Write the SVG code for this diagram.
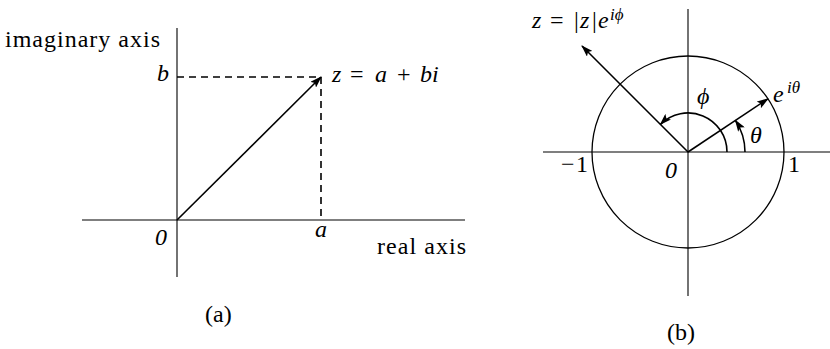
<svg xmlns="http://www.w3.org/2000/svg" width="830" height="349" viewBox="0 0 830 349">
<style>
.ax{stroke:#000;stroke-width:1.1;fill:none}
.vec{stroke:#000;stroke-width:1.6;fill:none}
.dash{stroke:#000;stroke-width:1.6;fill:none;stroke-dasharray:7 5}
.arc{stroke:#000;stroke-width:1.6;fill:none}
.circ{stroke:#000;stroke-width:1.3;fill:none}
text{font-family:Liberation Serif,Times New Roman,serif;font-size:24px;fill:#000}
.it{font-style:italic}
.sup{font-size:17px;font-style:italic}
</style>
<defs>
<marker id="ah" viewBox="0 0 12 8" refX="11" refY="4" markerWidth="12" markerHeight="8" markerUnits="userSpaceOnUse" orient="auto">
<path d="M0,0 L12,4 L0,8 L2.5,4 Z" fill="#000"/>
</marker>
</defs>
<g id="connectors">
<g id="panel-a-axes">
<line class="ax" x1="82" y1="220" x2="465" y2="220"/>
<line class="ax" x1="177" y1="28" x2="177" y2="277"/>
<line class="dash" x1="177" y1="77" x2="321" y2="77"/>
<line class="dash" x1="321" y1="77" x2="321" y2="220"/>
<line class="vec" x1="177" y1="220" x2="321" y2="77" marker-end="url(#ah)"/>
</g>
<g id="panel-b-axes">
<line class="ax" x1="543" y1="152" x2="830" y2="152"/>
<line class="ax" x1="688" y1="9" x2="688" y2="296"/>
<circle class="circ" cx="688" cy="152" r="96"/>
<line class="vec" x1="688" y1="152" x2="582" y2="46" marker-end="url(#ah)"/>
<line class="vec" x1="688" y1="152" x2="767.9" y2="98.8" marker-end="url(#ah)"/>
<path class="arc" d="M745,152 A57,57 0 0 0 735.4,120.4" marker-end="url(#ah)"/>
<path class="arc" d="M727,152 A39,39 0 0 0 660.4,124.4" marker-end="url(#ah)"/>
</g>
</g>
<g id="labels">
<g id="labels-a">
<text x="5" y="47" textLength="155" lengthAdjust="spacing">imaginary axis</text>
<text class="it" x="157" y="81">b</text>
<text class="it" x="155" y="245">0</text>
<text class="it" x="315" y="237">a</text>
<text x="377" y="254" textLength="89" lengthAdjust="spacing">real axis</text>
<text y="82"><tspan class="it" x="332">z</tspan><tspan x="350">=</tspan><tspan class="it" x="375">a</tspan><tspan x="397">+</tspan><tspan class="it" x="420">bi</tspan></text>
<text x="205" y="322">(a)</text>
</g>
<g id="labels-b">
<text y="28"><tspan class="it" x="532">z</tspan><tspan x="550">=</tspan><tspan x="574">|</tspan><tspan class="it" x="580">z</tspan><tspan x="592">|</tspan><tspan class="it" x="598">e</tspan></text>
<text class="sup" x="610" y="20">iϕ</text>
<text class="it" x="697" y="104">ϕ</text>
<text class="it" x="773" y="102">e</text>
<text class="sup" x="787" y="93">iθ</text>
<text class="it" x="750" y="143">θ</text>
<text y="172"><tspan x="561">−</tspan><tspan x="576">1</tspan></text>
<text class="it" x="665" y="178">0</text>
<text x="788" y="172">1</text>
<text x="667" y="340">(b)</text>
</g>
</g>
</svg>
